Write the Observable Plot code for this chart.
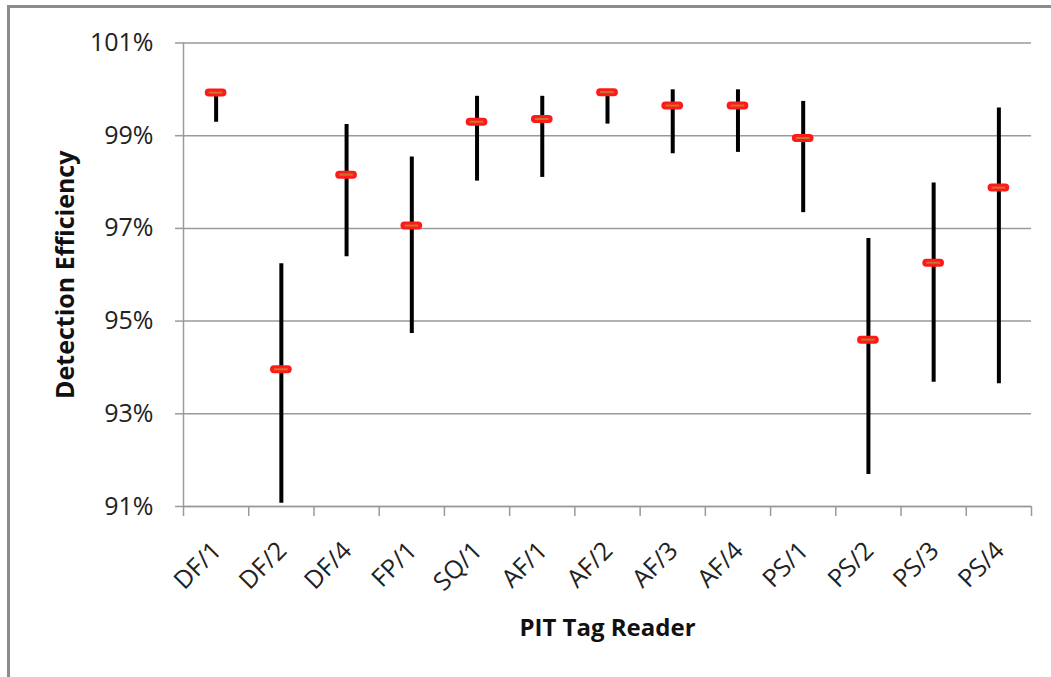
<!DOCTYPE html>
<html>
<head>
<meta charset="utf-8">
<script src="https://cdn.jsdelivr.net/npm/d3@7"></script>
<script src="https://cdn.jsdelivr.net/npm/@observablehq/plot@0.6"></script>
<style>
  html, body { margin: 0; padding: 0; background: #fff; }
  #wrap { position: relative; width: 1051px; height: 677px; overflow: hidden; }
  #border { position: absolute; left: 7px; top: 5px; width: 1060px; height: 700px;
            border-top: 3px solid #8c8c8c; border-left: 3px solid #8c8c8c; pointer-events: none; }
  #chart { position: absolute; left: 0; top: 0; }
</style>
</head>
<body>
<div id="wrap"><div id="chart"></div><div id="border"></div></div>
<script>
const categories = ["DF/1","DF/2","DF/4","FP/1","SQ/1","AF/1","AF/2","AF/3","AF/4","PS/1","PS/2","PS/3","PS/4"];
const means = [99.93, 93.96, 98.16, 97.06, 99.30, 99.36, 99.94, 99.65, 99.65, 98.95, 94.60, 96.26, 97.88];
const lower = [99.29, 91.07, 96.39, 94.73, 98.02, 98.10, 99.25, 98.61, 98.64, 97.34, 91.69, 93.68, 93.65];
const upper = [99.95, 96.24, 99.24, 98.54, 99.85, 99.85, 99.95, 99.99, 99.99, 99.74, 96.78, 97.98, 99.60];
const yTicks = [91, 93, 95, 97, 99, 101];
const yTickLabels = ["91%", "93%", "95%", "97%", "99%", "101%"];
const yTitle = "Detection Efficiency";
const xTitle = "PIT Tag Reader";

const data = categories.map((c, i) => ({cat: c, pos: i + 0.5, mean: means[i], lo: lower[i], hi: upper[i]}));
const boundaries = d3.range(categories.length + 1);
const centers = data.map(d => d.pos);
const halfMarker = 0.105;

const font = "'Open Sans', Lato, sans-serif";
const grid = "#9a9a9a";

const chart = Plot.plot({
  width: 1051,
  height: 677,
  marginLeft: 183,
  marginRight: 20,
  marginTop: 42.5,
  marginBottom: 171,
  style: {fontFamily: font, background: "transparent", overflow: "visible"},
  x: {type: "linear", domain: [0, categories.length], axis: null},
  y: {domain: [91, 101], axis: null},
  marks: [
    Plot.ruleY(yTicks, {stroke: grid, strokeWidth: 1.5}),
    Plot.axisY({ticks: yTicks, tickFormat: (d) => yTickLabels[yTicks.indexOf(d)], tickSize: 8, tickPadding: 22,
                stroke: grid, strokeWidth: 1.5, fontSize: 25, fill: "#222", label: null}),
    Plot.axisX({ticks: boundaries, tickFormat: () => "", tickSize: 10, stroke: grid, strokeWidth: 1.5, label: null}),
    Plot.ruleX([0], {stroke: grid, strokeWidth: 1.5, y1: 91, y2: 101}),
    Plot.ruleY([91], {stroke: grid, strokeWidth: 1.5}),
    Plot.axisX({ticks: centers, tickFormat: (d) => categories[Math.round(d - 0.5)], tickSize: 0, tickRotate: -45,
                tickPadding: 40, dx: 1, fontSize: 25, fill: "#222", label: null}),
    Plot.ruleX(data, {x: "pos", y1: "lo", y2: "hi", stroke: "#000", strokeWidth: 4}),
    Plot.ruleY(data, {x1: d => d.pos - halfMarker, x2: d => d.pos + halfMarker, y: "mean",
                      stroke: "#ff1a1a", strokeWidth: 8, strokeLinecap: "round"}),
    Plot.ruleY(data, {x1: d => d.pos - halfMarker, x2: d => d.pos + halfMarker, y: "mean",
                      stroke: "#c8762e", strokeWidth: 2}),
    Plot.text([yTitle], {frameAnchor: "left", dx: -118, rotate: -90, textAnchor: "middle", fontSize: 25,
                         fontWeight: "bold", fill: "#111", style: {letterSpacing: "1px"}}),
    Plot.text([xTitle], {frameAnchor: "bottom", dy: 129, textAnchor: "middle", fontSize: 24, fontWeight: "bold", fill: "#111"})
  ]
});
document.getElementById("chart").appendChild(chart);
</script>
</body>
</html>
